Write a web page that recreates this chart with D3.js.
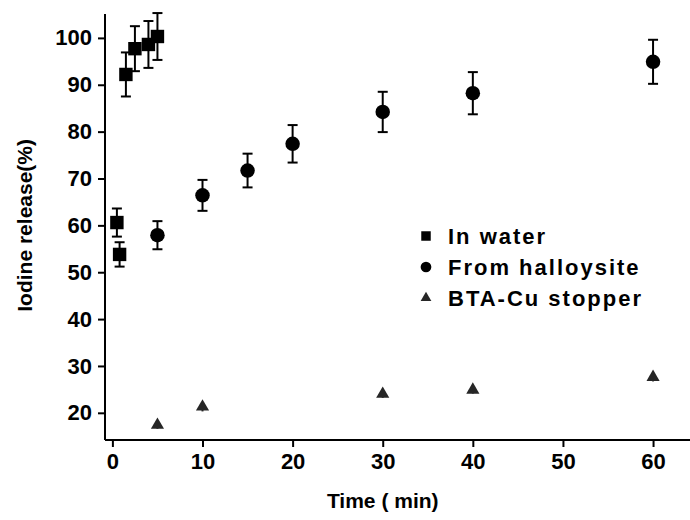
<!DOCTYPE html>
<html>
<head>
<meta charset="utf-8">
<script src="https://cdn.jsdelivr.net/npm/d3@7"></script>
<style>
  body { margin: 0; background: #fff; }
  text { font-family: "Liberation Sans", Arial, sans-serif; font-weight: bold; fill: #000; }
</style>
</head>
<body>
<div id="chart"></div>
<script>
// data
var waterTime = [0.5, 0.8, 1.5, 2.5, 4, 5];
var waterRelease = [60.6, 53.8, 92.2, 97.7, 98.6, 100.3];
var waterErr = [3, 2.6, 4.7, 4.8, 5, 5];

var hallTime = [5, 10, 15, 20, 30, 40, 60];
var hallRelease = [57.9, 66.4, 71.7, 77.4, 84.2, 88.2, 94.9];
var hallErr = [3, 3.3, 3.6, 4, 4.3, 4.5, 4.7];

var btaTime = [5, 10, 30, 40, 60];
var btaRelease = [17.4, 21.3, 24.0, 24.9, 27.6];
var btaErr = [0.8, 1, 0.8, 0.8, 0.9];

var xTicks = [0, 10, 20, 30, 40, 50, 60];
var yTicks = [20, 30, 40, 50, 60, 70, 80, 90, 100];
var legendNames = ["In water", "From halloysite", "BTA-Cu stopper"];

var width = 690, height = 520;
var margin = {top: 14, right: 0, bottom: 80, left: 105};

var svg = d3.select("#chart").append("svg")
    .attr("width", width)
    .attr("height", height);

var x = d3.scaleLinear().domain([-0.82, 64.1]).range([margin.left, width - margin.right]);
var y = d3.scaleLinear().domain([14.2, 105.1]).range([height - margin.bottom, margin.top]);

//x axis with minor ticks
var xAxis = svg.append("g").attr("transform", "translate(0," + (height - margin.bottom) + ")");
xAxis.call(d3.axisBottom(x).tickValues(d3.range(5, 65, 10)).tickSize(4).tickFormat(""));
xAxis.call(d3.axisBottom(x).tickValues(xTicks).tickSize(7).tickPadding(6));
xAxis.selectAll("text").attr("font-size", 22);
xAxis.selectAll("path, line").attr("stroke", "#000").attr("stroke-width", 2);
xAxis.selectAll(".domain").attr("d", "M" + margin.left + ",0H" + (width - margin.right));

//y axis with minor ticks
var yAxis = svg.append("g").attr("transform", "translate(" + margin.left + ",0)");
yAxis.call(d3.axisLeft(y).tickValues(d3.range(15, 105, 10)).tickSize(4).tickFormat(""));
yAxis.call(d3.axisLeft(y).tickValues(yTicks).tickSize(7).tickPadding(6));
yAxis.selectAll("text").attr("font-size", 22);
yAxis.selectAll("path, line").attr("stroke", "#000").attr("stroke-width", 2);
yAxis.selectAll(".domain").attr("d", "M0," + margin.top + "V" + (height - margin.bottom));

svg.append("text")
    .attr("x", x(30))
    .attr("y", 508)
    .attr("text-anchor", "middle")
    .attr("font-size", 21)
    .text("Time ( min)");

svg.append("text")
    .attr("transform", "translate(32," + y(60) + ") rotate(-90)")
    .attr("text-anchor", "middle")
    .attr("font-size", 21)
    .text("Iodine release(%)");

var series = [
    {t: waterTime, v: waterRelease, e: waterErr, sym: d3.symbolSquare, size: 180, fill: "#000", cap: 5},
    {t: hallTime, v: hallRelease, e: hallErr, sym: d3.symbolCircle, size: 165, fill: "#000", cap: 5},
    {t: btaTime, v: btaRelease, e: btaErr, sym: d3.symbolTriangle, size: 75, fill: "#262626", cap: 0}
];

series.forEach(function(s) {
    var pts = s.t.map(function(d, i) { return {t: d, v: s.v[i], e: s.e[i]}; });
    var g = svg.append("g");
    //error bars
    g.selectAll("line.bar").data(pts).enter().append("line")
        .attr("x1", d => x(d.t)).attr("x2", d => x(d.t))
        .attr("y1", d => y(d.v - d.e)).attr("y2", d => y(d.v + d.e))
        .attr("stroke", s.fill).attr("stroke-width", 2);
    if (s.cap > 0) {
        [-1, 1].forEach(function(sign) {
            g.selectAll("line.cap" + sign).data(pts).enter().append("line")
                .attr("x1", d => x(d.t) - s.cap).attr("x2", d => x(d.t) + s.cap)
                .attr("y1", d => y(d.v + sign * d.e)).attr("y2", d => y(d.v + sign * d.e))
                .attr("stroke", "#000").attr("stroke-width", 2);
        });
    }
    g.selectAll("path.pt").data(pts).enter().append("path")
        .attr("transform", d => "translate(" + x(d.t) + "," + y(d.v) + ")")
        .attr("d", d3.symbol().type(s.sym).size(s.size))
        .attr("fill", s.fill);
});

//legend
var legend = svg.append("g");
legendNames.forEach(function(name, i) {
    var ly = 236 + i * 31;
    legend.append("path")
        .attr("transform", "translate(426," + ly + ")")
        .attr("d", d3.symbol().type(series[i].sym).size(i == 2 ? 50 : 90))
        .attr("fill", series[i].fill);
    legend.append("text")
        .attr("x", 448)
        .attr("y", ly)
        .attr("dy", "0.35em")
        .attr("font-size", 22)
        .attr("letter-spacing", 2)
        .text(name);
});
</script>
</body>
</html>
